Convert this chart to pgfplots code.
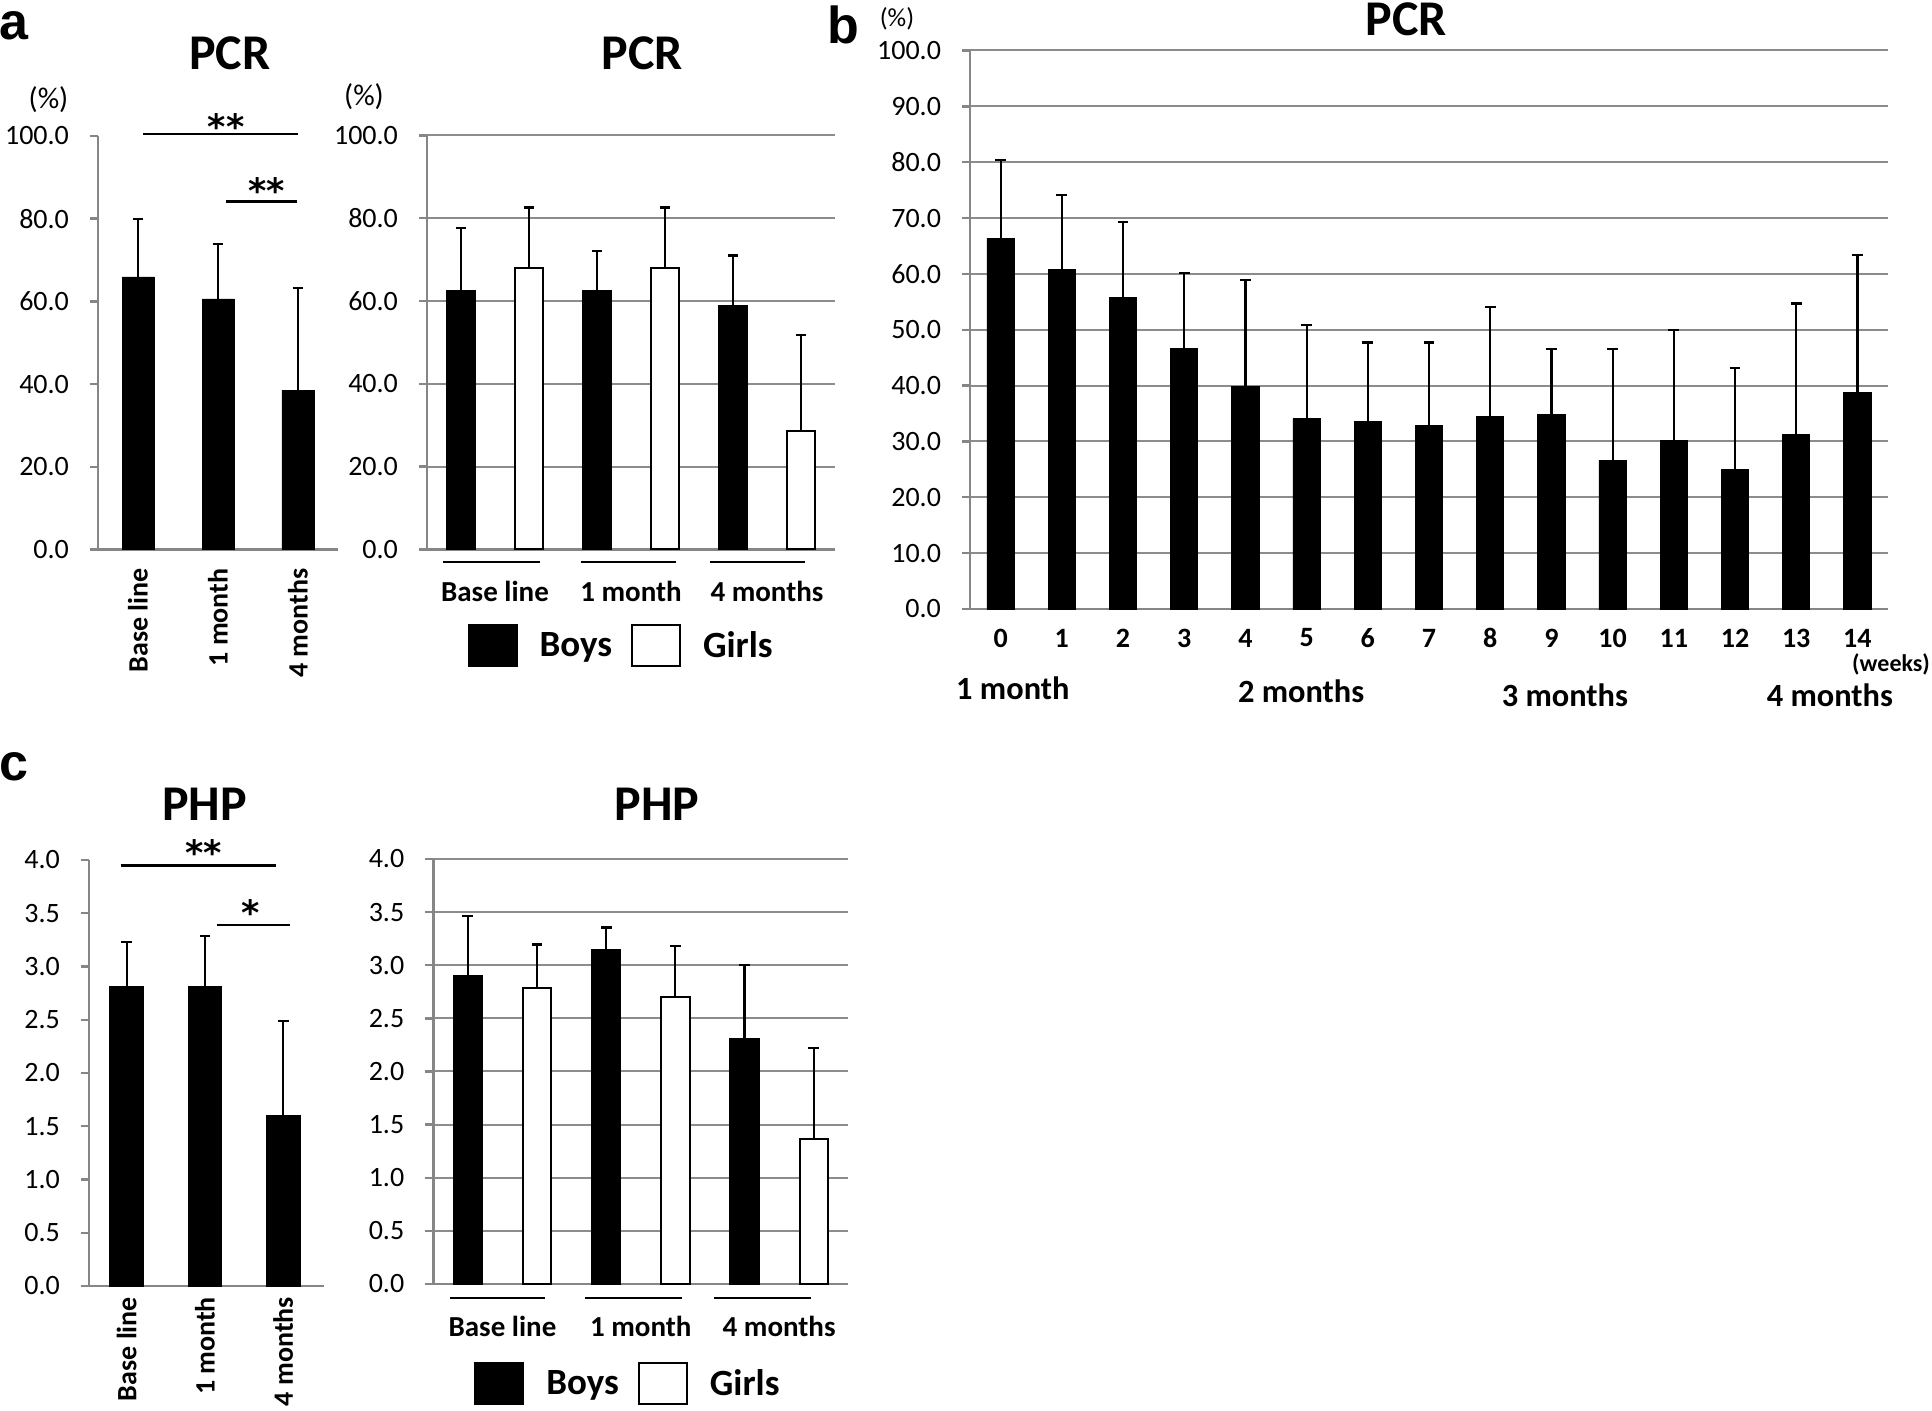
\documentclass[border=0pt]{standalone}
\usepackage{fontspec}
\setmainfont{Carlito}
\newfontfamily\arialb{Liberation Sans}
\newfontfamily\dvs{DejaVu Sans}
\usepackage{pgfplots}
\pgfplotsset{compat=1.18}
\definecolor{axgray}{RGB}{134,134,134}
\definecolor{grgray}{RGB}{140,140,140}
\newcommand\fs[1]{\fontsize{#1}{#1}\selectfont}

\pgfplotsset{
 panel/.style={anchor=south west, scale only axis, axis lines*=left,
   axis line style={axgray, line width=1.2pt}, clip=false,
   tick align=outside, major tick length=4pt,
   ytick style={axgray, line width=1.2pt}, xtick style={draw=none},
   /pgf/number format/assume math mode=true,
   yticklabel style={font=\fs{14}, xshift=-7pt,
     /pgf/number format/fixed, /pgf/number format/fixed zerofill,
     /pgf/number format/precision=1},
   enlargelimits=false},
 mygrid/.style={ymajorgrids, grid style={grgray, line width=1pt}},
 errs/.style={/pgfplots/error bars/y dir=plus, /pgfplots/error bars/y explicit,
   /pgfplots/error bars/error bar style={black, line width=1.1pt},
   /pgfplots/error bars/error mark options={black, line width=1.1pt, mark size=2.7pt, rotate=90}},
 legbox/.style={legend columns=2,
   legend image code/.code={\draw[##1] (0pt,-10.25pt) rectangle (24pt,10.25pt);},
   legend style={draw=none, fill=none, anchor=center, font=\bfseries\fs{18.5},
     nodes={inner xsep=0pt},
     /tikz/every odd column/.append style={column sep=11pt},
     /tikz/every even column/.append style={column sep=9.5pt}}},
}

\begin{document}
\begin{tikzpicture}
\path[use as bounding box] (0pt,0pt) rectangle (966pt,705.5pt);

% panel letters
\node[font=\arialb\bfseries\fs{26}, inner sep=0pt] at (6.75pt,692.7pt) {a};
\node[font=\arialb\bfseries\fs{26}, inner sep=0pt] at (421.75pt,693pt) {b};
\node[font=\arialb\bfseries\fs{26}, inner sep=0pt] at (6.75pt,322.25pt) {c};

% titles
\node[font=\bfseries\fs{25}] at (115pt,678.75pt) {PCR};
\node[font=\bfseries\fs{25}] at (321.25pt,678.75pt) {PCR};
\node[font=\bfseries\fs{25}] at (703pt,695.75pt) {PCR};
\node[font=\bfseries\fs{25}] at (102.25pt,303.5pt) {PHP};
\node[font=\bfseries\fs{25}] at (328.5pt,303.5pt) {PHP};

% (%) labels
\node[font=\fs{15}] at (24.25pt,655.5pt) {(\%)};
\node[font=\fs{15}] at (182pt,657pt) {(\%)};
\node[font=\fs{13}] at (448.5pt,696.25pt) {(\%)};

% ---------------- a, left
\begin{axis}[panel, at={(49pt,430.75pt)}, width=120pt, height=206.75pt,
  xmin=-0.5, xmax=2.5, ymin=0, ymax=100, ytick={0,20,...,100},
  xtick={0,1,2}, xticklabels={Base line,1 month,4 months},
  xticklabel style={font=\bfseries\fs{14}, yshift=-2pt, rotate=90, anchor=east}]
\addplot[ybar, bar width=0.4, fill=black, draw=black, errs]
  coordinates {(0,65.9) +- (0,14.1) (1,60.6) +- (0,13.3) (2,38.5) +- (0,24.8)};
\draw[black, line width=1.2pt] (axis cs:0.06,100.5) -- (axis cs:2.0,100.5);
\draw[black, line width=1.2pt] (axis cs:1.10,84.2) -- (axis cs:1.99,84.2);
\node[font=\dvs\bfseries\fs{17.5}] at (axis cs:1.10,102.2) {**};
\node[font=\dvs\bfseries\fs{17.5}] at (axis cs:1.61,86.8) {**};
\end{axis}

% ---------------- a, right
\begin{axis}[panel, mygrid, legbox, at={(213.5pt,430.75pt)}, width=204pt, height=207pt,
  xmin=-0.5, xmax=2.5, ymin=0, ymax=100, ytick={0,20,...,100},
  xtick={0,1,2}, xticklabels={Base line,1 month,4 months},
  xticklabel style={font=\bfseries\fs{14.5}, anchor=center, yshift=-17pt},
  legend style={at={(axis cs:0.92,-23.2)}}]
\addplot[forget plot, ybar, bar width=0.21, bar shift=0pt, fill=black, draw=black, line width=1pt, errs]
  coordinates {(-0.25,62.4) +- (0,15.3) (0.75,62.4) +- (0,9.7) (1.75,58.9) +- (0,12.1)};
\addplot[forget plot, ybar, bar width=0.21, bar shift=0pt, fill=white, draw=black, line width=1pt, errs]
  coordinates {(0.25,68.0) +- (0,14.6) (1.25,68.0) +- (0,14.6) (2.25,28.6) +- (0,23.3)};
\draw[black, line width=1.2pt] (axis cs:-0.38,-3) -- (axis cs:0.33,-3);
\draw[black, line width=1.2pt] (axis cs:0.63,-3) -- (axis cs:1.33,-3);
\draw[black, line width=1.2pt] (axis cs:1.58,-3) -- (axis cs:2.28,-3);
\addlegendimage{fill=black, draw=black, line width=1pt}
\addlegendentry{Boys}
\addlegendimage{fill=white, draw=black, line width=1pt}
\addlegendentry{Girls}
\end{axis}

% ---------------- b
\begin{axis}[panel, mygrid, at={(485pt,401pt)}, width=459pt, height=279.25pt,
  xmin=-0.5, xmax=14.5, ymin=0, ymax=100, ytick={0,10,...,100},
  xtick={0,...,14},
  xticklabel style={font=\bfseries\fs{14}, anchor=center, yshift=-10.5pt}]
\addplot[ybar, bar width=0.446, fill=black, draw=black, errs]
  coordinates {(0,66.4) +- (0,14.0) (1,60.8) +- (0,13.3) (2,55.7) +- (0,13.6)
   (3,46.7) +- (0,13.4) (4,39.8) +- (0,19.1) (5,34.1) +- (0,16.8)
   (6,33.6) +- (0,14.1) (7,32.9) +- (0,14.8) (8,34.5) +- (0,19.5)
   (9,34.9) +- (0,11.6) (10,26.6) +- (0,20.0) (11,30.2) +- (0,19.8)
   (12,25.0) +- (0,18.1) (13,31.2) +- (0,23.5) (14,38.8) +- (0,24.6)};
\node[font=\bfseries\fs{12}] at (axis cs:14.55,-10.0) {(weeks)};
\node[font=\bfseries\fs{16.2}] at (axis cs:0.20,-14.2) {1 month};
\node[font=\bfseries\fs{16.2}] at (axis cs:4.91,-14.7) {2 months};
\node[font=\bfseries\fs{16.2}] at (axis cs:9.22,-15.4) {3 months};
\node[font=\bfseries\fs{16.2}] at (axis cs:13.55,-15.4) {4 months};
\end{axis}

% ---------------- c, left
\begin{axis}[panel, at={(44.5pt,62.5pt)}, width=117.5pt, height=213pt,
  xmin=-0.48, xmax=2.52, ymin=0, ymax=4, ytick={0,0.5,...,4},
  xtick={0,1,2}, xticklabels={Base line,1 month,4 months},
  xticklabel style={font=\bfseries\fs{14}, yshift=2pt, rotate=90, anchor=east}]
\addplot[ybar, bar width=0.43, fill=black, draw=black, errs]
  coordinates {(0,2.815) +- (0,0.417) (1,2.815) +- (0,0.47) (2,1.602) +- (0,0.888)};
\draw[black, line width=1.2pt] (axis cs:-0.075,3.95) -- (axis cs:1.91,3.95);
\draw[black, line width=1.2pt] (axis cs:1.16,3.39) -- (axis cs:2.09,3.39);
\node[font=\dvs\bfseries\fs{17.5}] at (axis cs:0.98,4.07) {**};
\node[font=\dvs\bfseries\fs{17.5}] at (axis cs:1.58,3.51) {*};
\end{axis}

% ---------------- c, right
\begin{axis}[panel, mygrid, legbox, at={(216.65pt,63.5pt)}, width=207.5pt, height=212.5pt,
  xmin=-0.5, xmax=2.5, ymin=0, ymax=4, ytick={0,0.5,...,4},
  xtick={0,1,2}, xticklabels={Base line,1 month,4 months},
  xticklabel style={font=\bfseries\fs{14.5}, anchor=center, yshift=-17pt},
  legend style={at={(axis cs:0.90,-0.94)}}]
\addplot[forget plot, ybar, bar width=0.205, bar shift=0pt, fill=black, draw=black, line width=1pt, errs]
  coordinates {(-0.25,2.90) +- (0,0.564) (0.75,3.148) +- (0,0.208) (1.75,2.304) +- (0,0.70)};
\addplot[forget plot, ybar, bar width=0.205, bar shift=0pt, fill=white, draw=black, line width=1pt, errs]
  coordinates {(0.25,2.784) +- (0,0.412) (1.25,2.70) +- (0,0.48) (2.25,1.364) +- (0,0.86)};
\draw[black, line width=1.2pt] (axis cs:-0.38,-0.13) -- (axis cs:0.31,-0.13);
\draw[black, line width=1.2pt] (axis cs:0.60,-0.13) -- (axis cs:1.30,-0.13);
\draw[black, line width=1.2pt] (axis cs:1.53,-0.13) -- (axis cs:2.23,-0.13);
\addlegendimage{fill=black, draw=black, line width=1pt}
\addlegendentry{Boys}
\addlegendimage{fill=white, draw=black, line width=1pt}
\addlegendentry{Girls}
\end{axis}
\end{tikzpicture}
\end{document}
